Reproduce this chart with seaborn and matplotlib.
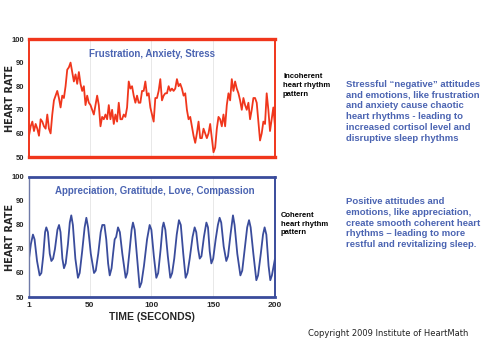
import numpy as np
import pandas as pd
import matplotlib
matplotlib.use("Agg")
import matplotlib.pyplot as plt
import seaborn as sns

# Incoherent (stress) heart-rate trace, evenly sampled over 1..200 s
stress_hr = [59, 63, 65, 61, 64, 62, 59, 66, 65, 63, 62, 68, 62, 60, 68, 74, 76, 78, 75, 71,
             76, 75, 80, 87, 88, 90, 86, 82, 85, 81, 86, 81, 78, 80, 72, 76, 73, 72, 70, 68,
             72, 76, 72, 63, 67, 66, 68, 66, 72, 66, 70, 64, 68, 65, 73, 66, 66, 68, 67, 71,
             82, 79, 80, 76, 73, 76, 73, 73, 78, 78, 82, 76, 77, 71, 68, 65, 75, 75, 78, 83,
             74, 76, 77, 77, 80, 78, 79, 78, 79, 83, 80, 81, 79, 76, 77, 70, 66, 67, 63, 59,
             56, 60, 65, 58, 58, 62, 60, 58, 60, 64, 58, 52, 54, 62, 67, 66, 63, 68, 63, 72,
             77, 74, 83, 78, 82, 79, 77, 74, 70, 75, 72, 70, 73, 66, 70, 75, 75, 73, 65, 57,
             60, 65, 64, 77, 70, 61, 66, 71, 63]
stress_t = np.linspace(1, 200, len(stress_hr))

# Coherent (appreciation) heart-rate trace
calm_t = [1, 2.5, 4.2, 5.5, 7.5, 9.6, 11, 12.5, 14, 15, 16.3, 17.8, 19.1, 20.5, 22, 24, 25.3,
          26.5, 28, 29.3, 30.7, 32.5, 34, 35.2, 36.5, 38.5, 40.6, 42, 44, 46, 47.4, 48.8, 51,
          53.6, 55, 57, 59, 60.3, 62, 63.5, 65, 66.3, 67.8, 69, 70.3, 71.5, 73, 74.5, 76.5,
          79.2, 80.5, 82.3, 84, 85.1, 86.5, 88.5, 90.5, 92, 94, 96.5, 98.6, 100, 102, 104,
          105.5, 107.5, 109, 109.9, 111.3, 113.3, 115.3, 116.8, 118.5, 120.5, 122.3, 123.8,
          125.8, 127.7, 129.2, 131, 133.3, 135, 136.3, 137.8, 139.1, 140.5, 142.5, 144.5,
          145.8, 147.2, 148.5, 150, 152, 153.8, 155.2, 156.5, 158.5, 160.6, 162, 164, 166,
          167.3, 169.5, 172, 173.5, 175.5, 177.5, 179, 180.3, 182.5, 184.9, 186.3, 188.5,
          190.3, 191.6, 193, 194.8, 196.2, 197.5, 200]
calm_hr = [66, 72, 76, 74, 65, 59, 60, 67, 77, 79, 77, 68, 65, 66, 70, 78, 80,
           77, 66, 62, 64, 72, 81, 84, 80, 66, 58, 60, 69, 79, 83, 79, 68,
           60, 61, 68, 77, 80, 80, 74, 64, 59, 62, 68, 74, 75, 79, 77, 68,
           58, 60, 69, 78, 81, 78, 66, 54, 56, 63, 74, 80, 78, 67, 58,
           60, 70, 79, 81, 78, 67, 58, 60, 66, 76, 82, 80,
           68, 58, 60, 66, 75, 79, 77, 70, 66, 67, 75, 81,
           79, 69, 64, 66, 74, 80, 83, 81, 71, 65, 67, 76, 84,
           80, 68, 59, 61, 70, 79, 82, 79, 68, 57, 59, 68,
           76, 79, 76, 63, 57, 59, 66]

x_ticks = [1, 50, 100, 150, 200]
y_ticks = [50, 60, 70, 80, 90, 100]

stress_df = pd.DataFrame({"t": stress_t, "hr": stress_hr})
calm_df = pd.DataFrame({"t": calm_t, "hr": calm_hr})

sns.set_style("white")
plt.rcParams["font.family"] = ["Liberation Sans", "DejaVu Sans"]

RED = "#f0361c"
NAVY = "#3a4c9c"
TEXT_BLUE = "#4b64b2"

fig = plt.figure(figsize=(5.0, 3.44), dpi=100)
fig.patch.set_facecolor("white")

ax_top = fig.add_axes([0.058, 0.5436, 0.492, 0.343])
ax_bot = fig.add_axes([0.058, 0.1366, 0.492, 0.349])

sns.lineplot(data=stress_df, x="t", y="hr", ax=ax_top, color=RED, linewidth=1.3)
sns.lineplot(data=calm_df, x="t", y="hr", ax=ax_bot, color=NAVY, linewidth=1.3)

narrow = ["Liberation Sans Narrow", "Liberation Sans", "DejaVu Sans"]

for ax in (ax_top, ax_bot):
    ax.set_xlim(1, 200)
    ax.set_ylim(50, 100)
    ax.set_xticks(x_ticks)
    ax.set_yticks(y_ticks)
    ax.set_yticklabels([str(v) for v in y_ticks], fontsize=5.5, fontweight="bold",
                       family=narrow)
    ax.set_xlabel("")
    ax.set_ylabel("HEART RATE", fontsize=7, fontweight="bold", family="DejaVu Sans")
    ax.yaxis.set_label_coords(-0.057, 0.5)
    for v in x_ticks[1:-1]:
        ax.axvline(v, color="#e4e4e4", linewidth=0.6, zorder=0)
    ax.tick_params(axis="both", length=2, width=0.6, color="#555555", pad=1.5)

ax_top.set_xticklabels([])
ax_bot.set_xticklabels([str(v) for v in x_ticks], fontsize=6, fontweight="bold",
                       family=narrow)
ax_bot.set_xlabel("TIME (SECONDS)", fontsize=7.5, fontweight="bold", family=narrow,
                  labelpad=2)

# panel frames
for side, lw in (("top", 2.4), ("bottom", 2.4), ("left", 1.4), ("right", 1.4)):
    ax_top.spines[side].set_color(RED)
    ax_top.spines[side].set_linewidth(lw)
for side, lw, col in (("top", 2.0, NAVY), ("bottom", 2.0, NAVY),
                      ("left", 1.0, "#6f7aa8"), ("right", 1.4, NAVY)):
    ax_bot.spines[side].set_color(col)
    ax_bot.spines[side].set_linewidth(lw)

ax_top.text(0.5, 0.87, "Frustration, Anxiety, Stress", transform=ax_top.transAxes,
            ha="center", va="center", fontsize=7, fontweight="bold", color=TEXT_BLUE)
ax_bot.text(0.51, 0.88, "Appreciation, Gratitude, Love, Compassion", transform=ax_bot.transAxes,
            ha="center", va="center", fontsize=7, fontweight="bold", color=TEXT_BLUE)

fig.text(283 / 500, 1 - 73 / 344, "Incoherent\nheart rhythm\npattern", ha="left", va="top",
         fontsize=5.5, fontweight="bold", color="black", linespacing=1.35)
fig.text(281 / 500, 1 - 212 / 344, "Coherent\nheart rhythm\npattern", ha="left", va="top",
         fontsize=5.5, fontweight="bold", color="black", linespacing=1.35)

fig.text(346 / 500, 1 - 80 / 344,
         "Stressful \u201cnegative\u201d attitudes\nand emotions, like frustration\n"
         "and anxiety cause chaotic\nheart rhythms - leading to\n"
         "increased cortisol level and\ndisruptive sleep rhythms",
         ha="left", va="top", fontsize=6.8, fontweight="bold", color=TEXT_BLUE,
         linespacing=1.25)
fig.text(346 / 500, 1 - 197 / 344,
         "Positive attitudes and\nemotions, like appreciation,\ncreate smooth coherent heart\n"
         "rhythms \u2013 leading to more\nrestful and revitalizing sleep.",
         ha="left", va="top", fontsize=6.8, fontweight="bold", color=TEXT_BLUE,
         linespacing=1.25)

fig.text(308 / 500, 1 - 334 / 344, "Copyright 2009 Institute of HeartMath",
         ha="left", va="center", fontsize=6, color="#222222", family="DejaVu Sans")

fig.savefig("out.png", dpi=100, facecolor="white")
